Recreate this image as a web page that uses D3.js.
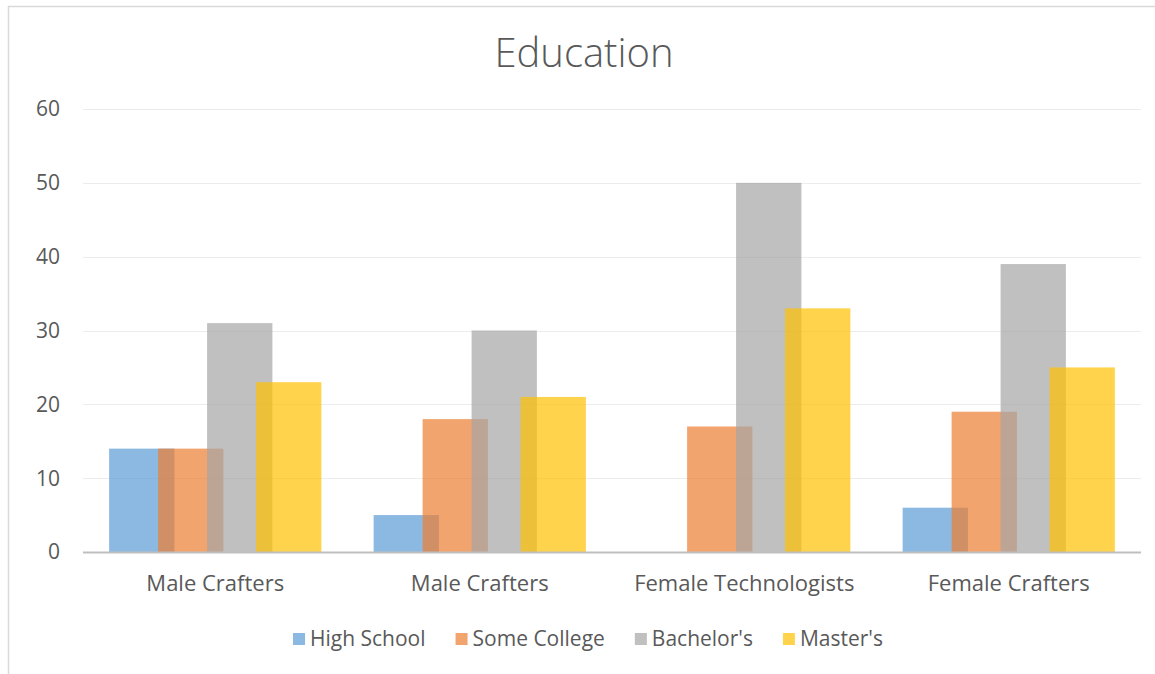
<!DOCTYPE html>
<html>
<head>
<meta charset="utf-8">
<script src="https://cdn.jsdelivr.net/npm/d3@7"></script>
<style>
  body { margin: 0; background: #fff; }
  text { font-family: "Open Sans", "DejaVu Sans", sans-serif; fill: #595959; }
</style>
</head>
<body>
<div class="chart"></div>
<script>
// data
const categories = ["Male Crafters", "Male Crafters ", "Female Technologists", "Female Crafters"];
const seriesNames = ["High School", "Some College", "Bachelor's", "Master's"];
const highSchool = [14, 5, 0, 6];
const someCollege = [14, 18, 17, 19];
const bachelors = [31, 30, 50, 39];
const masters = [23, 21, 33, 25];
const yTicks = [0, 10, 20, 30, 40, 50, 60];
const colors = ["#5B9BD5", "#ED7D31", "#A5A5A5", "#FFC000"];

const seriesValues = [highSchool, someCollege, bachelors, masters];

// layout
let outWidth = 1155, outHeight = 674;
let margin = {top: 109, right: 14, left: 83, bottom: 122};
let width = outWidth - margin.left - margin.right,
    height = outHeight - margin.top - margin.bottom;

const svg = d3.select('.chart').append('svg')
    .attr("width", outWidth)
    .attr("height", outHeight);

// chart frame
svg.append("path")
    .attr("d", `M8.5,${outHeight} L8.5,6.5 L${outWidth},6.5`)
    .attr("fill", "none")
    .attr("stroke", "#d9d9d9")
    .attr("stroke-width", 1.5);

svg.append("text")
    .attr("x", 584)
    .attr("y", 67)
    .attr("text-anchor", "middle")
    .style("font-size", "40px")
    .style("font-weight", 300)
    .text("Education");

const g = svg.append("g")
    .attr("transform", `translate(${margin.left}, ${margin.top})`);

let x = d3.scaleBand()
    .domain(categories)
    .range([0, width])
    .padding(0);

let y = d3.scaleLinear()
    .domain([0, 60])
    .range([height, 0]);

// excel-like gap width 80%, overlap 25%
const n = seriesNames.length;
const gapWidth = 0.8, overlap = 0.25;
const barW = x.bandwidth() / (n - (n - 1) * overlap + gapWidth);
const step = barW * (1 - overlap);
const groupW = step * (n - 1) + barW;

// gridlines
g.selectAll(".grid")
    .data(yTicks.slice(1))
    .join("line")
    .attr("class", "grid")
    .attr("x1", 0)
    .attr("x2", width)
    .attr("y1", d => Math.round(y(d)) + 0.5)
    .attr("y2", d => Math.round(y(d)) + 0.5)
    .attr("stroke", "#ececec")
    .attr("stroke-width", 1);

// y tick labels
g.selectAll(".ylab")
    .data(yTicks)
    .join("text")
    .attr("class", "ylab")
    .attr("x", -23)
    .attr("y", d => y(d))
    .attr("dy", "0.35em")
    .attr("text-anchor", "end")
    .style("font-size", "21px")
    .text(d => d);

// bars
seriesValues.forEach((vals, si) => {
    g.selectAll(".bar" + si)
        .data(vals.map((v, i) => ({cat: categories[i], v: v})))
        .join("rect")
        .attr("class", "bar" + si)
        .attr("x", d => x(d.cat) + (x.bandwidth() - groupW) / 2 + si * step)
        .attr("y", d => y(d.v))
        .attr("width", barW)
        .attr("height", d => y(0) - y(d.v))
        .attr("fill", colors[si])
        .attr("fill-opacity", 0.7);
});

// axis line
g.append("line")
    .attr("x1", 0)
    .attr("x2", width)
    .attr("y1", y(0) + 0.5)
    .attr("y2", y(0) + 0.5)
    .attr("stroke", "#bfbfbf")
    .attr("stroke-width", 2);

// category labels
g.selectAll(".xlab")
    .data(categories)
    .join("text")
    .attr("class", "xlab")
    .attr("x", d => x(d) + x.bandwidth() / 2)
    .attr("y", height + 39)
    .attr("text-anchor", "middle")
    .style("font-size", "22px")
    .text(d => d.trim());

// legend
const legend = svg.append("g");
let lx = 0;
seriesNames.forEach((name, i) => {
    const item = legend.append("g").attr("transform", `translate(${lx},0)`);
    item.append("rect")
        .attr("x", 0).attr("y", -13)
        .attr("width", 12).attr("height", 12)
        .attr("fill", colors[i])
        .attr("fill-opacity", 0.7);
    const t = item.append("text")
        .attr("x", 17)
        .attr("y", 0)
        .style("font-size", "21px")
        .text(name);
    lx += 17 + t.node().getComputedTextLength() + 30;
});
lx -= 30;
legend.attr("transform", `translate(${588 - lx / 2}, 646)`);
</script>
</body>
</html>
